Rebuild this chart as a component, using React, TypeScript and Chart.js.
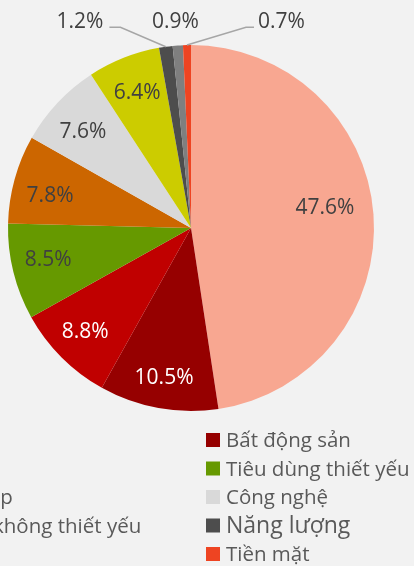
import React, { useEffect, useRef } from 'react';
import { Chart, registerables } from 'chart.js';

Chart.register(...registerables);

const categories = [
  'Tài chính',
  'Bất động sản',
  'Vật liệu',
  'Tiêu dùng thiết yếu',
  'Công nghiệp',
  'Công nghệ',
  'Tiêu dùng không thiết yếu',
  'Năng lượng',
  'Tiện ích',
  'Tiền mặt',
];
const shares = [47.6, 10.5, 8.8, 8.5, 7.8, 7.6, 6.4, 1.2, 0.9, 0.7];
const sliceColors = [
  '#F8A791',
  '#960000',
  '#C00000',
  '#669900',
  '#CC6600',
  '#D9D9D9',
  '#CCCC00',
  '#4D4D4D',
  '#7F7F7F',
  '#EE4422',
];
const valueLabels = shares.map((v) => v.toFixed(1) + '%');

const FONT = '"Open Sans", "Noto Sans", sans-serif';
const LABEL_SIZE = 21;
const WHITE_LABELS = [1, 2];
// inside labels: angular nudge (deg) from the bisector and radius fraction (Excel "best fit")
const INSIDE: Record<number, { dAngle: number; frac: number }> = {
  0: { dAngle: -5, frac: 0.742 },
  1: { dAngle: 0, frac: 0.827 },
  2: { dAngle: 1, frac: 0.804 },
  3: { dAngle: 2, frac: 0.798 },
  4: { dAngle: -2.3, frac: 0.791 },
  5: { dAngle: -1, frac: 0.797 },
  6: { dAngle: 0, frac: 0.8 },
};
// outside labels: offset of label centre from the slice's outer midpoint, and leader side
const OUTSIDE: Record<number, { dx: number; dy: number; leader: 'left' | 'right' | null }> = {
  7: { dx: -85.8, dy: -25.9, leader: 'right' },
  8: { dx: -2.4, dy: -24.7, leader: null },
  9: { dx: 94.5, dy: -24.2, leader: 'left' },
};

const sliceLabelPlugin = {
  id: 'sliceLabels',
  afterDatasetsDraw(chart: any) {
    const ctx = chart.ctx;
    const meta = chart.getDatasetMeta(0);
    ctx.save();
    ctx.font = `${LABEL_SIZE}px ${FONT}`;
    ctx.textAlign = 'center';
    ctx.textBaseline = 'alphabetic';
    const half = (LABEL_SIZE * 0.714) / 2;
    meta.data.forEach((arc: any, i: number) => {
      const p = arc.getProps(['x', 'y', 'startAngle', 'endAngle', 'outerRadius'], true);
      const mid = (p.startAngle + p.endAngle) / 2;
      const text = valueLabels[i];
      const out = OUTSIDE[i];
      if (out) {
        const ax = p.x + Math.cos(mid) * p.outerRadius;
        const ay = p.y + Math.sin(mid) * p.outerRadius;
        const lx = ax + out.dx;
        const ly = ay + out.dy;
        const w = ctx.measureText(text).width;
        if (out.leader) {
          const lineY = ly + 6.5;
          ctx.strokeStyle = '#A6A6A6';
          ctx.lineWidth = 1.5;
          ctx.beginPath();
          if (out.leader === 'right') {
            const x0 = lx + w / 2 + 6;
            ctx.moveTo(x0, lineY);
            ctx.lineTo(x0 + 11, lineY);
          } else {
            const x0 = lx - w / 2 - 4;
            ctx.moveTo(x0, lineY);
            ctx.lineTo(x0 - 8, lineY);
          }
          ctx.lineTo(ax, ay);
          ctx.stroke();
        }
        ctx.fillStyle = '#404040';
        ctx.fillText(text, lx, ly + half);
      } else {
        const pl = INSIDE[i] || { dAngle: 0, frac: 0.8 };
        const a = mid + (pl.dAngle * Math.PI) / 180;
        ctx.fillStyle = WHITE_LABELS.includes(i) ? '#FFFFFF' : '#404040';
        ctx.fillText(
          text,
          p.x + Math.cos(a) * p.outerRadius * pl.frac,
          p.y + Math.sin(a) * p.outerRadius * pl.frac + half
        );
      }
    });
    ctx.restore();
  },
};

const legendPlugin = {
  id: 'gridLegend',
  afterDraw(chart: any) {
    const ctx = chart.ctx;
    const meta = chart.getDatasetMeta(0);
    const cx = meta.data[0].x;
    const area = chart.chartArea;
    const rightBox = cx + 15;
    const colSpacing = 333;
    const base0 = area.bottom + 36;
    const pitch = 28.5;
    ctx.save();
    ctx.textAlign = 'left';
    ctx.textBaseline = 'alphabetic';
    categories.forEach((name, i) => {
      const col = i % 2;
      const row = Math.floor(i / 2);
      const bx = col === 1 ? rightBox : rightBox - colSpacing;
      const by = base0 + row * pitch;
      ctx.fillStyle = sliceColors[i];
      ctx.fillRect(bx, by - 14, 14, 14);
      ctx.fillStyle = '#595959';
      ctx.font = `${name === 'Năng lượng' ? 23 : 20.5}px ${FONT}`;
      ctx.fillText(name, bx + 20, by);
    });
    ctx.restore();
  },
};

export default function App() {
  const canvasRef = useRef<HTMLCanvasElement | null>(null);

  useEffect(() => {
    const canvas = canvasRef.current;
    if (!canvas) return;
    const chart = new Chart(canvas, {
      type: 'pie',
      data: {
        labels: categories,
        datasets: [
          {
            data: shares,
            backgroundColor: sliceColors,
            borderWidth: 0,
          },
        ],
      },
      options: {
        responsive: false,
        animation: false,
        layout: { padding: { left: 8, right: 40, top: 45, bottom: 155 } },
        plugins: {
          legend: { display: false },
          tooltip: { enabled: false },
          title: { display: false },
        },
      },
      plugins: [sliceLabelPlugin, legendPlugin],
    });
    return () => chart.destroy();
  }, []);

  return (
    <div
      style={{
        position: 'fixed',
        left: 0,
        top: 0,
        width: 414,
        height: 566,
        background: '#F2F2F2',
        overflow: 'hidden',
      }}
    >
      <canvas ref={canvasRef} width={414} height={566} style={{ display: 'block', width: 414, height: 566 }} />
    </div>
  );
}
